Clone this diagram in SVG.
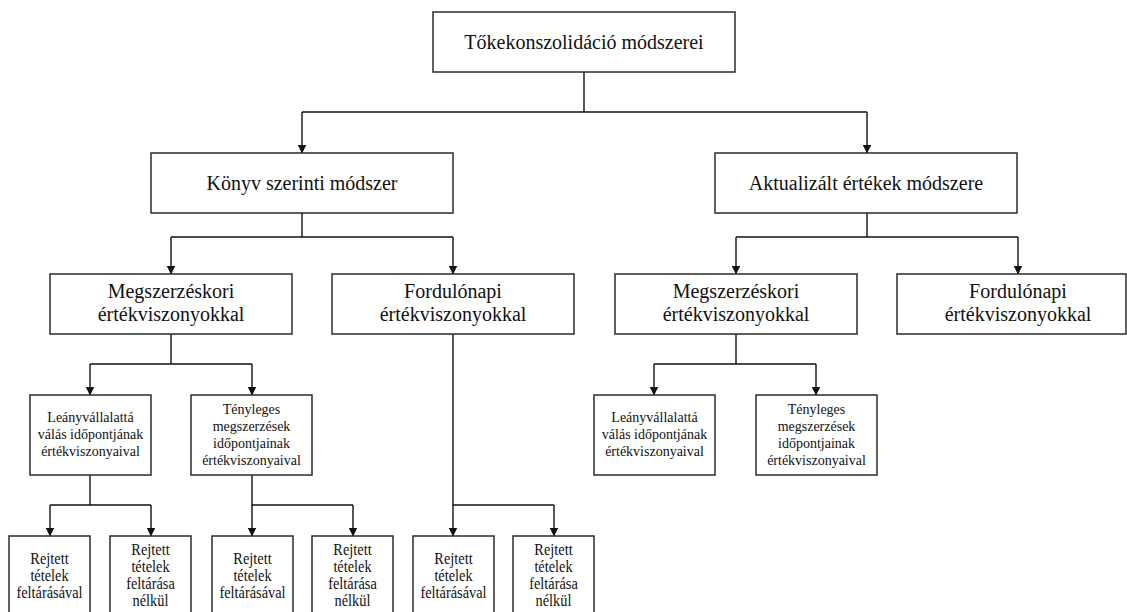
<svg xmlns="http://www.w3.org/2000/svg" width="1127" height="612" viewBox="0 0 1127 612">
  <style>
    .box { fill: #ffffff; stroke: #2b2b2b; stroke-width: 1.5; }
    .link { fill: none; stroke: #111111; stroke-width: 1.4; }
    text { fill: #111111; text-anchor: middle; font-family: "Liberation Serif", Tinos, "Times New Roman", "Nimbus Roman", "DejaVu Serif", FreeSerif, serif; }
    .t20 { font-size: 20px; }
    .t14 { font-size: 14px; }
    .t17 { font-size: 17.5px; }
  </style>
  <defs>
    <marker id="arrow" markerUnits="userSpaceOnUse" markerWidth="9" markerHeight="10" refX="8.5" refY="4.5" orient="auto">
      <path d="M0,0 L9,4.5 L0,9 Z" fill="#111111"/>
    </marker>
  </defs>
  <rect width="1127" height="612" fill="#ffffff"/>

  <!-- connectors -->
  <g id="connectors">
    <path class="link" d="M584,72 V112"/>
    <path class="link" d="M302,112 H867"/>
    <path class="link" d="M302,112 V153" marker-end="url(#arrow)"/>
    <path class="link" d="M867,112 V153" marker-end="url(#arrow)"/>

    <path class="link" d="M302,213 V237 M171,237 H453"/>
    <path class="link" d="M171,237 V274" marker-end="url(#arrow)"/>
    <path class="link" d="M453,237 V274" marker-end="url(#arrow)"/>

    <path class="link" d="M867,213 V237 M736,237 H1018"/>
    <path class="link" d="M736,237 V274" marker-end="url(#arrow)"/>
    <path class="link" d="M1018,237 V274" marker-end="url(#arrow)"/>

    <path class="link" d="M171,334 V364 M90,364 H252"/>
    <path class="link" d="M90,364 V395" marker-end="url(#arrow)"/>
    <path class="link" d="M252,364 V395" marker-end="url(#arrow)"/>

    <path class="link" d="M736,334 V364 M654,364 H816"/>
    <path class="link" d="M654,364 V395" marker-end="url(#arrow)"/>
    <path class="link" d="M816,364 V395" marker-end="url(#arrow)"/>

    <path class="link" d="M90,475 V505 M50,505 H151"/>
    <path class="link" d="M50,505 V536" marker-end="url(#arrow)"/>
    <path class="link" d="M151,505 V536" marker-end="url(#arrow)"/>

    <path class="link" d="M252,475 V505 H353"/>
    <path class="link" d="M252,505 V536" marker-end="url(#arrow)"/>
    <path class="link" d="M353,505 V536" marker-end="url(#arrow)"/>

    <path class="link" d="M453,334 V505 H554"/>
    <path class="link" d="M453,505 V536" marker-end="url(#arrow)"/>
    <path class="link" d="M554,505 V536" marker-end="url(#arrow)"/>
  </g>

  <!-- level 1 -->
  <g id="root">
    <rect class="box" x="433" y="12" width="302" height="60"/>
    <text class="t20" x="584" y="49">Tőkekonszolidáció módszerei</text>
  </g>

  <!-- level 2 -->
  <g id="konyv">
    <rect class="box" x="151" y="153" width="302" height="60"/>
    <text class="t20" x="302" y="190">Könyv szerinti módszer</text>
  </g>
  <g id="aktualizalt">
    <rect class="box" x="715" y="153" width="302" height="60"/>
    <text class="t20" x="866" y="190">Aktualizált értékek módszere</text>
  </g>

  <!-- level 3 -->
  <g id="konyv-megszerzeskori">
    <rect class="box" x="50" y="274" width="242" height="60"/>
    <text class="t20" x="171" y="298">Megszerzéskori</text>
    <text class="t20" x="171" y="321">értékviszonyokkal</text>
  </g>
  <g id="konyv-fordulonapi">
    <rect class="box" x="332" y="274" width="242" height="60"/>
    <text class="t20" x="453" y="298">Fordulónapi</text>
    <text class="t20" x="453" y="321">értékviszonyokkal</text>
  </g>
  <g id="akt-megszerzeskori">
    <rect class="box" x="615" y="274" width="242" height="60"/>
    <text class="t20" x="736" y="298">Megszerzéskori</text>
    <text class="t20" x="736" y="321">értékviszonyokkal</text>
  </g>
  <g id="akt-fordulonapi">
    <rect class="box" x="897" y="274" width="229" height="60"/>
    <text class="t20" x="1018" y="298">Fordulónapi</text>
    <text class="t20" x="1018" y="321">értékviszonyokkal</text>
  </g>

  <!-- level 4 -->
  <g id="konyv-leanyvallalat">
    <rect class="box" x="30" y="395" width="121" height="80"/>
    <text class="t14" x="90.5" y="422">Leányvállalattá</text>
    <text class="t14" x="90.5" y="439">válás időpontjának</text>
    <text class="t14" x="90.5" y="456">értékviszonyaival</text>
  </g>
  <g id="konyv-tenyleges">
    <rect class="box" x="191" y="395" width="121" height="80"/>
    <text class="t14" x="251.5" y="414">Tényleges</text>
    <text class="t14" x="251.5" y="431">megszerzések</text>
    <text class="t14" x="251.5" y="448">időpontjainak</text>
    <text class="t14" x="251.5" y="465">értékviszonyaival</text>
  </g>
  <g id="akt-leanyvallalat">
    <rect class="box" x="594" y="395" width="121" height="80"/>
    <text class="t14" x="654.5" y="422">Leányvállalattá</text>
    <text class="t14" x="654.5" y="439">válás időpontjának</text>
    <text class="t14" x="654.5" y="456">értékviszonyaival</text>
  </g>
  <g id="akt-tenyleges">
    <rect class="box" x="756" y="395" width="121" height="80"/>
    <text class="t14" x="816.5" y="414">Tényleges</text>
    <text class="t14" x="816.5" y="431">megszerzések</text>
    <text class="t14" x="816.5" y="448">időpontjainak</text>
    <text class="t14" x="816.5" y="465">értékviszonyaival</text>
  </g>

  <!-- level 5 -->
  <g id="leany-feltarassal">
    <rect class="box" x="9" y="536" width="81" height="90"/>
    <g transform="translate(49.5,0) scale(0.82,1)">
      <text class="t17" x="0" y="564">Rejtett</text>
      <text class="t17" x="0" y="581">tételek</text>
      <text class="t17" x="0" y="598">feltárásával</text>
    </g>
  </g>
  <g id="leany-feltaras-nelkul">
    <rect class="box" x="110" y="536" width="81" height="90"/>
    <g transform="translate(150.5,0) scale(0.82,1)">
      <text class="t17" x="0" y="555">Rejtett</text>
      <text class="t17" x="0" y="572">tételek</text>
      <text class="t17" x="0" y="589">feltárása</text>
      <text class="t17" x="0" y="606">nélkül</text>
    </g>
  </g>
  <g id="tenyleges-feltarassal">
    <rect class="box" x="212" y="536" width="81" height="90"/>
    <g transform="translate(252.5,0) scale(0.82,1)">
      <text class="t17" x="0" y="564">Rejtett</text>
      <text class="t17" x="0" y="581">tételek</text>
      <text class="t17" x="0" y="598">feltárásával</text>
    </g>
  </g>
  <g id="tenyleges-feltaras-nelkul">
    <rect class="box" x="312" y="536" width="81" height="90"/>
    <g transform="translate(352.5,0) scale(0.82,1)">
      <text class="t17" x="0" y="555">Rejtett</text>
      <text class="t17" x="0" y="572">tételek</text>
      <text class="t17" x="0" y="589">feltárása</text>
      <text class="t17" x="0" y="606">nélkül</text>
    </g>
  </g>
  <g id="fordulonapi-feltarassal">
    <rect class="box" x="413" y="536" width="81" height="90"/>
    <g transform="translate(453.5,0) scale(0.82,1)">
      <text class="t17" x="0" y="564">Rejtett</text>
      <text class="t17" x="0" y="581">tételek</text>
      <text class="t17" x="0" y="598">feltárásával</text>
    </g>
  </g>
  <g id="fordulonapi-feltaras-nelkul">
    <rect class="box" x="513" y="536" width="81" height="90"/>
    <g transform="translate(553.5,0) scale(0.82,1)">
      <text class="t17" x="0" y="555">Rejtett</text>
      <text class="t17" x="0" y="572">tételek</text>
      <text class="t17" x="0" y="589">feltárása</text>
      <text class="t17" x="0" y="606">nélkül</text>
    </g>
  </g>
</svg>
